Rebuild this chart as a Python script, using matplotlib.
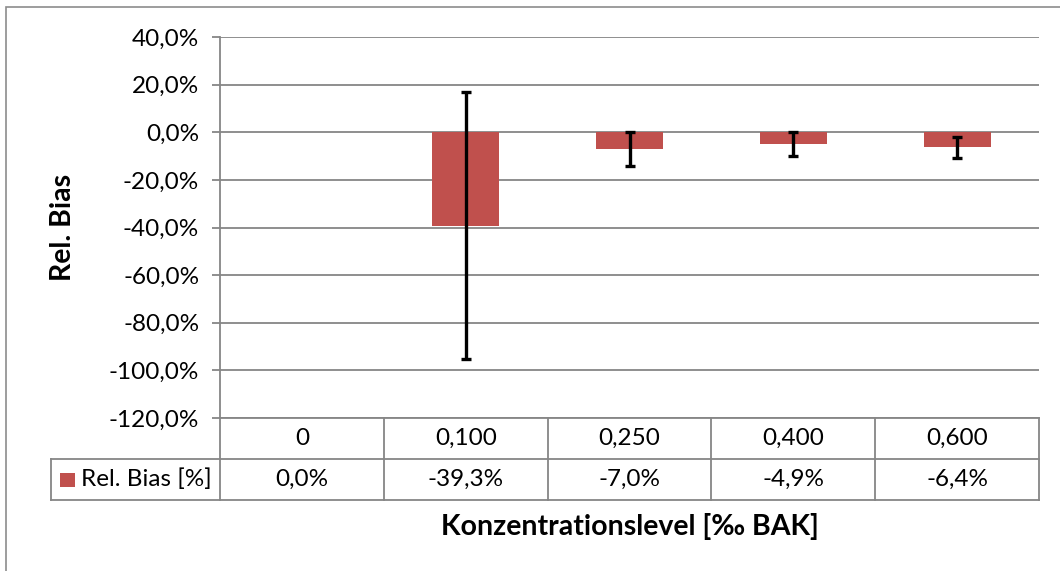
import matplotlib
matplotlib.use("Agg")
import matplotlib.pyplot as plt
from matplotlib.lines import Line2D
from matplotlib.patches import Rectangle
from matplotlib.ticker import FuncFormatter
import matplotlib.transforms as mtransforms
import numpy as np

categories = ["0", "0,100", "0,250", "0,400", "0,600"]
rel_bias = [0.0, -39.3, -7.0, -4.9, -6.4]
errors = [0.0, 56.0, 7.2, 5.0, 4.6]
table_values = ["0,0%", "-39,3%", "-7,0%", "-4,9%", "-6,4%"]
series_name = "Rel. Bias [%]"
y_ticks = [-120, -100, -80, -60, -40, -20, 0, 20, 40]

plt.rcParams['font.family'] = ['Lato', 'DejaVu Sans']

W, H = 1060, 571
fig = plt.figure(figsize=(W / 100, H / 100), dpi=100)

def fx(px):
    return px / W

def fy(py):
    return 1 - py / H

GRID = "#868686"
BAR = "#C0504D"
FS = 17.5
FSB = 20.5

# outer chart border
fig.add_artist(Rectangle((fx(6), fy(600)), fx(1100), 593 / H, transform=fig.transFigure,
                         fill=False, edgecolor="#8c8c8c", linewidth=1.2))

left, right, top, bottom = 220, 1039, 37, 418
ax = fig.add_axes([fx(left), fy(bottom), fx(right - left), (bottom - top) / H])
x = np.arange(len(categories))
ax.bar(x, rel_bias, width=0.41, color=BAR, zorder=2)
mask = np.array(errors) > 0
ax.errorbar(x[mask], np.array(rel_bias)[mask], yerr=np.array(errors)[mask], fmt="none",
            ecolor="black", elinewidth=2.4, capsize=3.4, capthick=2.4, zorder=3)
ax.set_xlim(-0.5, len(categories) - 0.5)
ax.set_ylim(-120, 40)
ax.set_yticks(y_ticks)
ax.yaxis.set_major_formatter(FuncFormatter(lambda v, p: f"{v:.1f}%".replace(".", ",")))
ax.grid(axis="y", color=GRID, linewidth=1.3, zorder=0)
ax.set_axisbelow(True)
for s in ["top", "right", "bottom"]:
    ax.spines[s].set_visible(False)
ax.spines["left"].set_color(GRID)
ax.spines["left"].set_linewidth(1.3)
ax.tick_params(axis="y", length=6, width=1.3, color=GRID, labelsize=FS, pad=9)
ax.tick_params(axis="x", length=0, labelbottom=False)

# data table
lw = 1.3
def hline(y, x0, x1):
    fig.add_artist(Line2D([fx(x0), fx(x1)], [fy(y), fy(y)], transform=fig.transFigure,
                          color=GRID, linewidth=lw))

def vline(xp, y0, y1):
    fig.add_artist(Line2D([fx(xp), fx(xp)], [fy(y0), fy(y1)], transform=fig.transFigure,
                          color=GRID, linewidth=lw))

r0, r1, r2 = 418, 459, 500
leg_left = 51
hline(r0, left, right)
hline(r1, leg_left, right)
hline(r2, leg_left, right)
vline(leg_left, r1, r2)
bounds = np.linspace(left, right, len(categories) + 1)
for i, b in enumerate(bounds):
    vline(b, r0, r2)

trans = mtransforms.blended_transform_factory(ax.transData, fig.transFigure)
for i, (c, v) in enumerate(zip(categories, table_values)):
    fig.text(i, fy((r0 + r1) / 2), c, transform=trans, ha="center", va="center", fontsize=FS)
    fig.text(i, fy((r1 + r2) / 2), v, transform=trans, ha="center", va="center", fontsize=FS)

fig.add_artist(Rectangle((fx(60), fy(487)), fx(15), 14 / H, transform=fig.transFigure,
                         facecolor=BAR, edgecolor="none"))
fig.text(fx(81), fy((r1 + r2) / 2), series_name, ha="left", va="center", fontsize=FS)

fig.text(fx(63), fy((top + bottom) / 2), "Rel. Bias", rotation=90, ha="center", va="center",
         fontsize=FSB, fontweight="bold")
fig.text(fx(630), fy(527), "Konzentrationslevel [‰ BAK]", ha="center", va="center",
         fontsize=FSB, fontweight="bold")

fig.savefig("out.png", dpi=100)
